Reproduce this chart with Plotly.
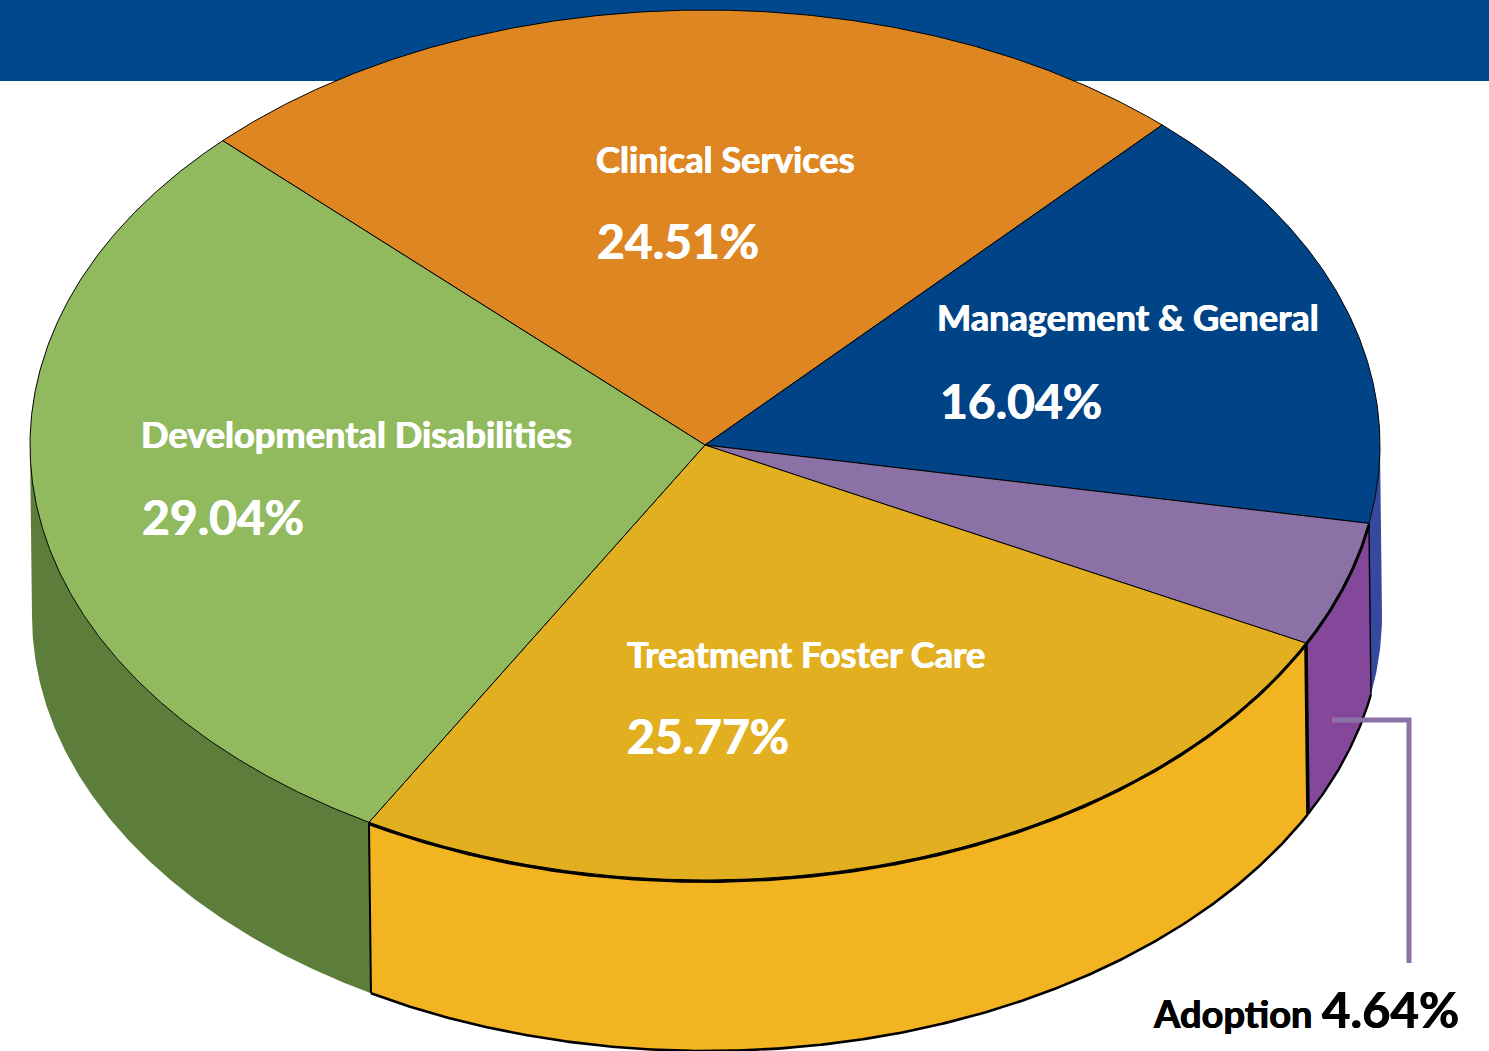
import numpy as np
import plotly.graph_objects as go

categories = ["Clinical Services", "Management & General", "Adoption", "Treatment Foster Care", "Developmental Disabilities"]
values = [24.51, 16.04, 4.64, 25.77, 29.04]
top_colors = ["#DD8622", "#004387", "#8C71A7", "#E1AF20", "#91BA5F"]
side_colors = ["#B06C1B", "#36499F", "#84489A", "#F2B420", "#5C7E3A"]
start_angle = 135.6
CX, CY, RX, RY = 705, 445, 675, 435
DX, DEPTH = 2, 171
label_xy = [(594, 159), (935, 317), None, (625, 654), (139, 434)]
pct_xy = [(595, 240), (938, 400), None, (625, 735), (140, 516)]

W, H = 1489, 1051
fig = go.Figure()

def arc(a0, a1, dx=0, dy=0, n=None):
    n = n or max(4, int(abs(a1 - a0) * 3))
    t = np.radians(np.linspace(a0, a1, n))
    return CX + dx + RX * np.cos(t), CY + dy - RY * np.sin(t)

# slice boundaries, clockwise
ends = start_angle - np.cumsum(values) * 3.6
starts = np.concatenate([[start_angle], ends[:-1]])
lw_side = [0, 0, 2.4, 2.6, 0]

# side walls: only the part of each slice below the horizontal axis is visible
for v_start, v_end, col, lw in zip(starts, ends, side_colors, lw_side):
    lo, hi = max(v_end, -180), min(v_start, 0)
    if lo >= hi:
        continue
    x1, y1 = arc(hi, lo)
    x2, y2 = arc(lo, hi, DX, DEPTH)
    xs = np.concatenate([x1, x2, x1[:1]])
    ys = np.concatenate([y1, y2, y1[:1]])
    fig.add_trace(go.Scatter(x=xs, y=ys, mode="lines", fill="toself", fillcolor=col,
                             line=dict(color="rgba(0,0,0,0)", width=0), hoverinfo="skip", showlegend=False))
    if lw:
        fig.add_trace(go.Scatter(x=x2, y=y2, mode="lines", line=dict(color="#000000", width=lw),
                                 hoverinfo="skip", showlegend=False))

# vertical seams between walls
for ang, lw in zip([ends[1], ends[2], ends[3]], [1.4, 3.6, 2]):
    x1, y1 = arc(ang, ang, n=2)
    x2, y2 = arc(ang, ang, DX, DEPTH, n=2)
    fig.add_trace(go.Scatter(x=[x1[0], x2[0]], y=[y1[0], y2[0]], mode="lines",
                             line=dict(color="#000000", width=lw), hoverinfo="skip", showlegend=False))

# top faces
for v_start, v_end, col, cat, v in zip(starts, ends, top_colors, categories, values):
    x, y = arc(v_start, v_end)
    xs = np.concatenate([[CX], x, [CX]])
    ys = np.concatenate([[CY], y, [CY]])
    fig.add_trace(go.Scatter(x=xs, y=ys, mode="lines", fill="toself", fillcolor=col,
                             line=dict(color="#000000", width=1), name=cat,
                             text=f"{cat} {v}%", hoverinfo="text", showlegend=False))

# heavier front rim of the gold and purple slices
x, y = arc(starts[2], ends[3])
fig.add_trace(go.Scatter(x=x, y=y + 1.5, mode="lines", line=dict(color="#000000", width=3),
                         hoverinfo="skip", showlegend=False))

font_family = "Lato, 'Open Sans', sans-serif"
def label(x, y, text, size, color):
    fig.add_annotation(x=x, y=y, text=text, showarrow=False, xanchor="left", yanchor="middle",
                       font=dict(family=font_family, size=size, color=color, weight=700,
                                 shadow=f"0.5px 0 0 {color}, -0.4px 0 0 {color}"))

for cat, v, lxy, pxy in zip(categories, values, label_xy, pct_xy):
    if lxy is None:
        continue
    label(lxy[0], lxy[1], cat, 36.2, "#FFFFFF")
    label(pxy[0], pxy[1], f"{v:.2f}%", 48, "#FFFFFF")

label(1151, 1013, categories[2], 38, "#000000")
label(1320, 1009, f"{values[2]:.2f}%", 49, "#000000")

fig.update_layout(
    width=W, height=H, margin=dict(l=0, r=0, t=0, b=0),
    paper_bgcolor="#FFFFFF", plot_bgcolor="#FFFFFF", showlegend=False,
    xaxis=dict(range=[0, W], visible=False, fixedrange=True),
    yaxis=dict(range=[H, 0], visible=False, fixedrange=True),
    shapes=[
        dict(type="rect", xref="x", yref="y", x0=0, x1=W, y0=0, y1=81, fillcolor="#00488D",
             line=dict(width=0), layer="below"),
        dict(type="path", xref="x", yref="y", path="M 1332 720 L 1409 720 L 1409 963",
             line=dict(color="#8C71A7", width=5), layer="above"),
    ],
)
fig.write_html("out.html", config=dict(displayModeBar=False),
               post_script="document.body.style.margin='0';document.body.style.overflow='hidden';")
